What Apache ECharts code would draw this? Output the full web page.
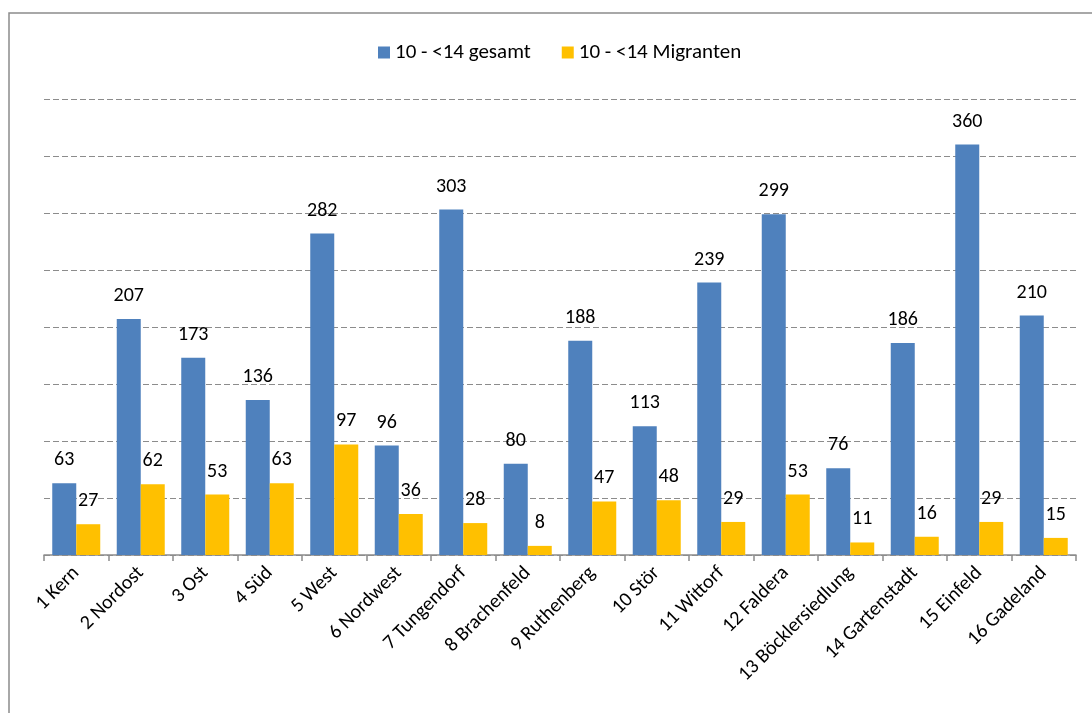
<!DOCTYPE html>
<html>
<head>
<meta charset="utf-8">
<script src="https://cdn.jsdelivr.net/npm/echarts@6/dist/echarts.min.js"></script>
<style>
  html, body { margin: 0; padding: 0; background: #fff; }
  #main { width: 1092px; height: 713px; }
</style>
</head>
<body>
<div id="main"></div>
<script>
// Stadtteile
var categories = ['1 Kern', '2 Nordost', '3 Ost', '4 Süd', '5 West', '6 Nordwest', '7 Tungendorf',
  '8 Brachenfeld', '9 Ruthenberg', '10 Stör', '11 Wittorf', '12 Faldera', '13 Böcklersiedlung',
  '14 Gartenstadt', '15 Einfeld', '16 Gadeland'];
var gesamt = [63, 207, 173, 136, 282, 96, 303, 80, 188, 113, 239, 299, 76, 186, 360, 210];
var migranten = [27, 62, 53, 63, 97, 36, 28, 8, 47, 48, 29, 53, 11, 16, 29, 15];
var seriesNames = ['10 - <14 gesamt', '10 - <14 Migranten'];

var font = 'Carlito, "Open Sans", "Liberation Sans", sans-serif';

var chart = echarts.init(document.getElementById('main'));
var option = {
  animation: false,
  textStyle: { fontFamily: font },
  graphic: [{
    type: 'rect',
    shape: { x: 9, y: 13, width: 1200, height: 800 },
    style: { fill: 'none', stroke: '#8c8c8c', lineWidth: 1.5 },
    silent: true
  }],
  legend: {
    data: seriesNames,
    left: 373,
    top: 37,
    itemWidth: 12,
    itemHeight: 12,
    itemGap: 31,
    icon: 'rect',
    textStyle: { fontSize: 21, color: '#000', fontFamily: font }
  },
  grid: { left: 44, right: 16, top: 99, bottom: 158, containLabel: false },
  xAxis: {
    type: 'category',
    data: categories,
    axisLine: { lineStyle: { color: '#8c8c8c', width: 1.5 } },
    axisTick: { show: true, length: 6, lineStyle: { color: '#8c8c8c', width: 1.5 } },
    axisLabel: { rotate: 45, fontSize: 20, color: '#000', margin: 15, interval: 0, fontFamily: font }
  },
  yAxis: {
    type: 'value',
    min: 0,
    max: 400,
    interval: 50,
    axisLine: { show: false },
    axisTick: { show: false },
    axisLabel: { show: false },
    splitLine: { show: true, lineStyle: { color: '#8c8c8c', type: [6, 3], width: 1.2 } }
  },
  series: [
    {
      name: seriesNames[0],
      type: 'bar',
      data: gesamt,
      barWidth: 24,
      barGap: '0%',
      itemStyle: { color: '#4F81BD' },
      label: { show: true, position: 'top', distance: 13, fontSize: 20, color: '#000', fontFamily: font }
    },
    {
      name: seriesNames[1],
      type: 'bar',
      data: migranten,
      barWidth: 24,
      barGap: '0%',
      itemStyle: { color: '#FFC000' },
      label: { show: true, position: 'top', distance: 13, fontSize: 20, color: '#000', fontFamily: font }
    }
  ]
};
chart.setOption(option);
window.addEventListener('resize', function () { chart.resize(); });
</script>
</body>
</html>
